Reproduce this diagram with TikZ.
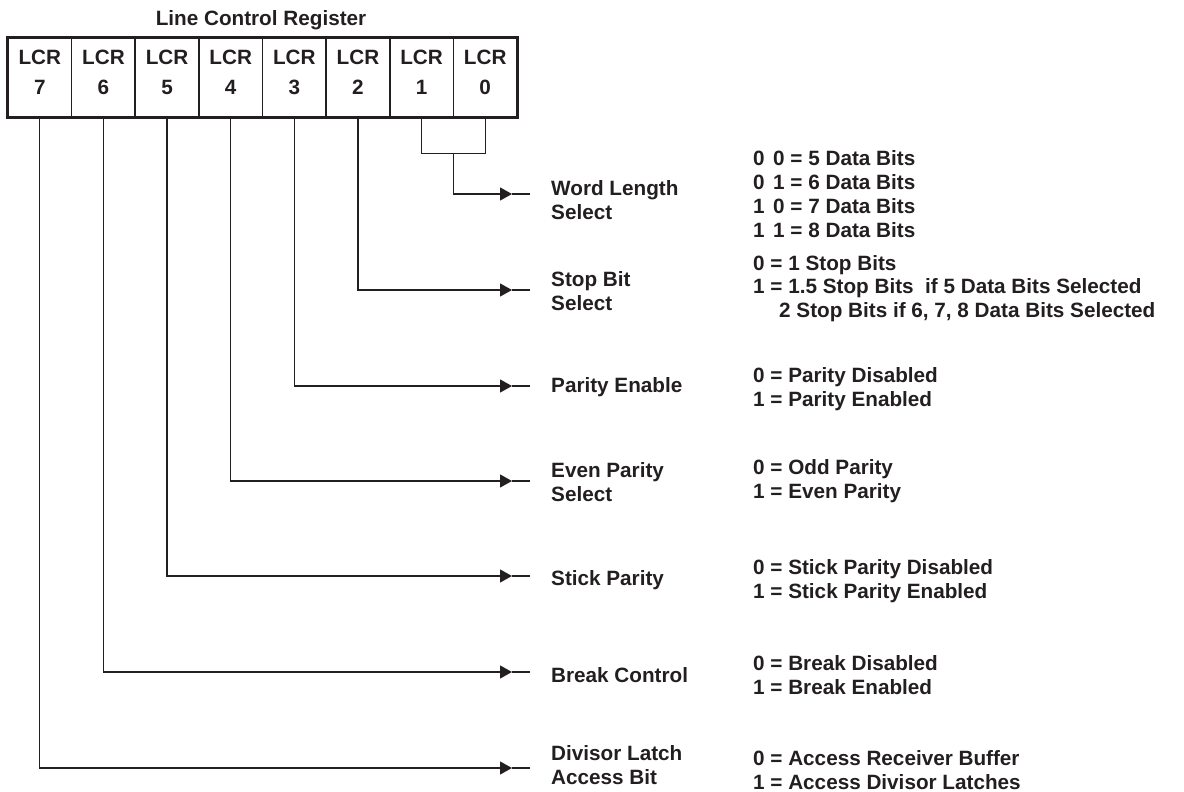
\documentclass[tikz,border=0pt]{standalone}
\usepackage{fontspec}
\setmainfont{Liberation Sans}
\usetikzlibrary{arrows.meta,calc}
\definecolor{ink}{RGB}{35,31,32}
\begin{document}
\begin{tikzpicture}[x=1pt,y=-1pt,
  txt/.style={font=\fontsize{20.7}{23.8}\selectfont\bfseries, text=ink, inner sep=0pt, align=left},
  cell/.style={draw=ink, line width=1.6pt, minimum width=63.625pt, minimum height=79pt, inner sep=0pt},
  conn/.style={draw=ink, line width=1.2pt},
  arr/.style={conn, -{Triangle[length=12pt,width=13pt]}},
]
\useasboundingbox (0,0) rectangle (1184,792);

% register cells
\foreach \i [count=\k from 0] in {7,6,5,4,3,2,1,0}
  \node[cell] (c\i) at ({8+63.625*(\k+0.5)},77.5) {};
\draw[ink, line width=2.4pt] (c7.north west) rectangle (c0.south east);
\foreach \i in {7,6,5,4,3,2,1,0}{
  \node[txt, anchor=base] (l\i) at ($(c\i.north)+(0,27.5)$) {LCR};
  \node[txt, anchor=base] (n\i) at ($(c\i.north)+(0,57)$) {\i};
}
\node[txt, anchor=base] (title) at (261,26) {Line Control Register};

% arrow coordinates
\foreach \j/\y in {0/194,1/290,2/386,3/481,4/576,5/672,6/768}{
  \coordinate (a\j) at (512,\y);
  \coordinate (e\j) at (530,\y);
}

% word length bracket
\coordinate (bk) at ($(c1.south)!0.5!(c0.south)+(0,36)$);
\draw[conn] (c1.south) |- (bk) -| (c0.south);
\draw[arr] (bk) |- (a0);
\draw[arr] (c2.south) |- (a1);
\draw[arr] (c3.south) |- (a2);
\draw[arr] (c4.south) |- (a3);
\draw[arr] (c5.south) |- (a4);
\draw[arr] (c6.south) |- (a5);
\draw[arr] (c7.south) |- (a6);
\foreach \j in {0,...,6} \draw[conn] (a\j) -- (e\j);

% labels (base anchor = baseline of last line)
\node[txt, anchor=base west] (t0) at (551,219) {Word Length\\Select};
\node[txt, anchor=base west] (t1) at (551,310) {Stop Bit\\Select};
\node[txt, anchor=base west] (t2) at (551,392.5) {Parity Enable};
\node[txt, anchor=base west] (t3) at (551,501) {Even Parity\\Select};
\node[txt, anchor=base west] (t4) at (551,585.5) {Stick Parity};
\node[txt, anchor=base west] (t5) at (551,682.5) {Break Control};
\node[txt, anchor=base west] (t6) at (551,784) {Divisor Latch\\Access Bit};

% descriptions
\node[txt, anchor=base west] (d0) at (753,237) {0\hspace{8.5pt}0 = 5 Data Bits\\0\hspace{8.5pt}1 = 6 Data Bits\\1\hspace{8.5pt}0 = 7 Data Bits\\1\hspace{8.5pt}1 = 8 Data Bits};
\node[txt, anchor=base west] (d1) at (753,317.6) {0 = 1 Stop Bits\\1 = 1.5 Stop Bits\ \ if 5 Data Bits Selected\\\hspace*{26pt}2 Stop Bits if 6, 7, 8 Data Bits Selected};
\node[txt, anchor=base west] (d2) at (753,406.3) {0 = Parity Disabled\\1 = Parity Enabled};
\node[txt, anchor=base west] (d3) at (753,498.3) {0 = Odd Parity\\1 = Even Parity};
\node[txt, anchor=base west] (d4) at (753,598.3) {0 = Stick Parity Disabled\\1 = Stick Parity Enabled};
\node[txt, anchor=base west] (d5) at (753,694.3) {0 = Break Disabled\\1 = Break Enabled};
\node[txt, anchor=base west] (d6) at (753,789.3) {0 = Access Receiver Buffer\\1 = Access Divisor Latches};
\end{tikzpicture}
\end{document}
